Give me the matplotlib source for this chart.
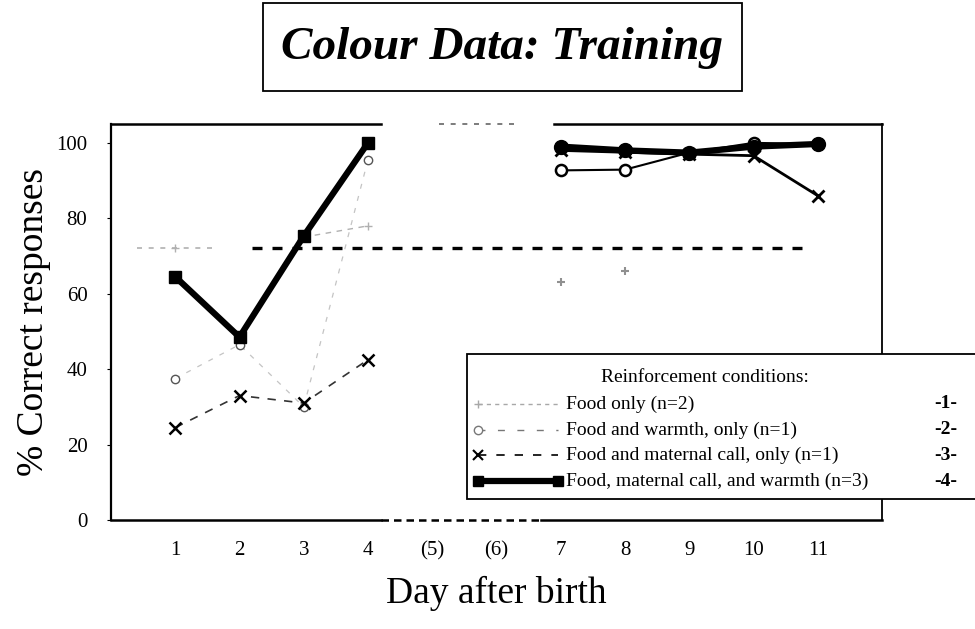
import numpy as np
import matplotlib.pyplot as plt
from matplotlib.lines import Line2D
from matplotlib.patches import Rectangle

plt.rcParams['font.family'] = ['Liberation Serif', 'DejaVu Serif']

# data (days 5 and 6 were not tested)
days = [1, 2, 3, 4, 5, 6, 7, 8, 9, 10, 11]
day_labels = ['1', '2', '3', '4', '(5)', '(6)', '7', '8', '9', '10', '11']
nan = np.nan
food_only = [72, nan, 75, 78, nan, nan, 63, 66, nan, nan, nan]
food_warmth = [37.5, 46.5, 30, 95.5, nan, nan, 92.7, 92.9, 97.4, 100, 99.7]
food_call = [24.5, 33, 31, 42.5, nan, nan, 98, 97.5, 97, 96.6, 86]
food_call_warmth = [64.5, 48.5, 75.3, 100, nan, nan, 99, 98, 97.4, 99, 99.7]
criterion = 72

legend_labels = ['Food only (n=2)',
                 'Food and warmth, only (n=1)',
                 'Food and maternal call, only (n=1)',
                 'Food, maternal call, and warmth (n=3)']
legend_tags = ['-1-', '-2-', '-3-', '-4-']

W, H = 975, 629
fig = plt.figure(figsize=(W / 100, H / 100), dpi=100)


def fx(px):
    return px / W


def fy(py):
    return 1 - py / H


# axes box in pixels of the reference
left, right, top, bottom = 111, 882, 124, 520
ax = fig.add_axes([fx(left), fy(bottom), fx(right - left), fy(top) - fy(bottom)])
ax.set_xlim(0, 12)
ax.set_ylim(0, 105)

d = np.array(days, dtype=float)
a = slice(0, 4)   # days 1-4
b = slice(6, 11)  # days 7-11

fo = np.array(food_only, dtype=float)
fw = np.array(food_warmth, dtype=float)
fc = np.array(food_call, dtype=float)
fa = np.array(food_call_warmth, dtype=float)

# criterion line
ax.hlines(criterion, 0.4, 1.6, colors='#b0b0b0', linestyles=(0, (3, 4)), lw=1.2)
ax.hlines(criterion, 2.2, 10.75, colors='black', linestyles=(0, (3, 3)), lw=2.4)

# 1 - food only (faint in the scan)
ax.plot(d[a], fo[a], color='#b0b0b0', lw=1, ls=(0, (4, 4)), marker='+', ms=6)
ax.plot(d[b], fo[b], color='#909090', lw=1, ls='none', marker='+', ms=6, mew=1.5)

# 2 - food and warmth
ax.plot(d[a], fw[a], color='#c4c4c4', lw=0.9, ls=(0, (4, 6)), marker='o', ms=6,
        mfc='white', mec='#555555')
ax.plot(d[b], fw[b], color='black', lw=1.5, marker='o', ms=8, mfc='white',
        mec='black', mew=1.8)

# 3 - food and maternal call
ax.plot(d[a], fc[a], color='#333333', lw=1.2, ls=(0, (5, 5)), marker='x', ms=8,
        mew=1.8, mec='black')
ax.plot(d[b], fc[b], color='black', lw=2, marker='x', ms=9, mew=2)

# 4 - food, maternal call and warmth
ax.plot(d[a], fa[a], color='black', lw=4.5, marker='s', ms=9)
ax.plot(d[b], fa[b], color='black', lw=4.5, marker='o', ms=10)

# broken top and bottom frame as in the scan
for s in ['top', 'bottom']:
    ax.spines[s].set_visible(False)
ax.spines['left'].set_linewidth(1.6)
ax.spines['right'].set_linewidth(1.3)
tr = ax.get_xaxis_transform()
ax.plot([0, 4.2], [1, 1], color='black', lw=1.8, transform=tr, clip_on=False)
ax.plot([5.1, 6.3], [1, 1], color='#666666', lw=1.2, ls=(0, (3, 4)),
        transform=tr, clip_on=False)
ax.plot([6.9, 12], [1, 1], color='black', lw=1.8, transform=tr, clip_on=False)
ax.plot([0, 4.2], [0, 0], color='black', lw=1.8, transform=tr, clip_on=False)
ax.plot([4.2, 6.7], [0, 0], color='black', lw=1.8, ls=(0, (3, 2)),
        transform=tr, clip_on=False)
ax.plot([6.7, 12], [0, 0], color='black', lw=1.8, transform=tr, clip_on=False)

ax.set_xticks(days)
ax.set_xticklabels(day_labels)
ax.set_yticks([0, 20, 40, 60, 80, 100])
ax.tick_params(axis='x', length=0, pad=15, labelsize=15)
ax.tick_params(axis='y', length=3, pad=14, labelsize=15, direction='out')
ax.set_xlabel('Day after birth', fontsize=27, labelpad=11)
ax.set_ylabel('% Correct responses', fontsize=27, labelpad=4)

# title in a box
fig.add_artist(Rectangle((fx(263), fy(91)), fx(742 - 263), fy(3) - fy(91),
                         transform=fig.transFigure, fill=False, lw=1.3,
                         edgecolor='black'))
fig.text(fx(502), fy(48), 'Colour Data: Training', ha='center', va='center',
         fontsize=34, fontweight='bold', fontstyle='italic')

# legend box (runs off the right edge like the scan)
lg_top, lg_bot, lg_left = 354, 499, 467
fig.add_artist(Rectangle((fx(lg_left), fy(lg_bot)), fx(980 - lg_left),
                         fy(lg_top) - fy(lg_bot), transform=fig.transFigure,
                         facecolor='white', edgecolor='black', lw=1.3, zorder=5))
fig.text(fx(705), fy(377), 'Reinforcement conditions:', ha='center',
         va='center', fontsize=14, zorder=6)
row_y = [404, 430, 455, 481]
handles = [
    dict(color='#a8a8a8', lw=1, ls=(0, (3, 3)), marker='+', ms=6),
    dict(color='#777777', lw=1, ls=(0, (5, 9)), marker='o', ms=6, mfc='white'),
    dict(color='black', lw=1.2, ls=(0, (5, 6)), marker='x', ms=7, mew=1.5),
    dict(color='black', lw=4.5, ls='-', marker='s', ms=7),
]
for y, lab, tag, h in zip(row_y, legend_labels, legend_tags, handles):
    line = Line2D([fx(478), fx(558)], [fy(y), fy(y)], transform=fig.transFigure,
                  zorder=6, **h)
    if h['marker'] != 's':
        line.set_markevery([0])
    fig.add_artist(line)
    fig.text(fx(566), fy(y), lab, ha='left', va='center', fontsize=14, zorder=6)
    fig.text(fx(946), fy(y), tag, ha='center', va='center', fontsize=14,
             fontweight='bold', zorder=6)

fig.savefig('out.png', dpi=100)
